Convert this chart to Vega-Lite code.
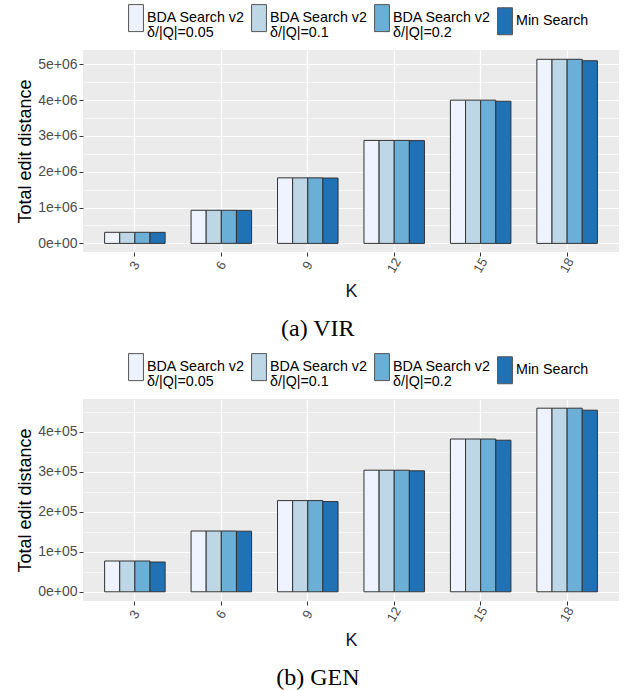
{
  "$schema": "https://vega.github.io/schema/vega-lite/v6.json",
  "padding": {"left": 16, "top": 4, "right": 5, "bottom": 3},
  "bounds": "flush",
  "spacing": 147,
  "config": {
    "view": {"fill": "#EBEBEB", "stroke": null},
    "font": "Liberation Sans",
    "style": {"guide-label": {"lineHeight": 14.5}}
  },
  "resolve": {"scale": {"y": "independent"}, "legend": {"color": "independent"}},
  "datasets": {
    "vir": [
      {"K": 3, "method": "BDA Search v2\nδ/|Q|=0.05", "value": 310000},
      {"K": 3, "method": "BDA Search v2\nδ/|Q|=0.1", "value": 310000},
      {"K": 3, "method": "BDA Search v2\nδ/|Q|=0.2", "value": 310000},
      {"K": 3, "method": "Min Search", "value": 308000},
      {"K": 6, "method": "BDA Search v2\nδ/|Q|=0.05", "value": 925000},
      {"K": 6, "method": "BDA Search v2\nδ/|Q|=0.1", "value": 925000},
      {"K": 6, "method": "BDA Search v2\nδ/|Q|=0.2", "value": 925000},
      {"K": 6, "method": "Min Search", "value": 923000},
      {"K": 9, "method": "BDA Search v2\nδ/|Q|=0.05", "value": 1830000},
      {"K": 9, "method": "BDA Search v2\nδ/|Q|=0.1", "value": 1830000},
      {"K": 9, "method": "BDA Search v2\nδ/|Q|=0.2", "value": 1830000},
      {"K": 9, "method": "Min Search", "value": 1825000},
      {"K": 12, "method": "BDA Search v2\nδ/|Q|=0.05", "value": 2875000},
      {"K": 12, "method": "BDA Search v2\nδ/|Q|=0.1", "value": 2875000},
      {"K": 12, "method": "BDA Search v2\nδ/|Q|=0.2", "value": 2875000},
      {"K": 12, "method": "Min Search", "value": 2870000},
      {"K": 15, "method": "BDA Search v2\nδ/|Q|=0.05", "value": 4000000},
      {"K": 15, "method": "BDA Search v2\nδ/|Q|=0.1", "value": 4000000},
      {"K": 15, "method": "BDA Search v2\nδ/|Q|=0.2", "value": 4000000},
      {"K": 15, "method": "Min Search", "value": 3970000},
      {"K": 18, "method": "BDA Search v2\nδ/|Q|=0.05", "value": 5140000},
      {"K": 18, "method": "BDA Search v2\nδ/|Q|=0.1", "value": 5140000},
      {"K": 18, "method": "BDA Search v2\nδ/|Q|=0.2", "value": 5140000},
      {"K": 18, "method": "Min Search", "value": 5100000}
    ],
    "gen": [
      {"K": 3, "method": "BDA Search v2\nδ/|Q|=0.05", "value": 77000},
      {"K": 3, "method": "BDA Search v2\nδ/|Q|=0.1", "value": 77000},
      {"K": 3, "method": "BDA Search v2\nδ/|Q|=0.2", "value": 77000},
      {"K": 3, "method": "Min Search", "value": 74500},
      {"K": 6, "method": "BDA Search v2\nδ/|Q|=0.05", "value": 152000},
      {"K": 6, "method": "BDA Search v2\nδ/|Q|=0.1", "value": 152000},
      {"K": 6, "method": "BDA Search v2\nδ/|Q|=0.2", "value": 152000},
      {"K": 6, "method": "Min Search", "value": 151500},
      {"K": 9, "method": "BDA Search v2\nδ/|Q|=0.05", "value": 228000},
      {"K": 9, "method": "BDA Search v2\nδ/|Q|=0.1", "value": 228000},
      {"K": 9, "method": "BDA Search v2\nδ/|Q|=0.2", "value": 228000},
      {"K": 9, "method": "Min Search", "value": 225500},
      {"K": 12, "method": "BDA Search v2\nδ/|Q|=0.05", "value": 304000},
      {"K": 12, "method": "BDA Search v2\nδ/|Q|=0.1", "value": 304000},
      {"K": 12, "method": "BDA Search v2\nδ/|Q|=0.2", "value": 304000},
      {"K": 12, "method": "Min Search", "value": 302500},
      {"K": 15, "method": "BDA Search v2\nδ/|Q|=0.05", "value": 382000},
      {"K": 15, "method": "BDA Search v2\nδ/|Q|=0.1", "value": 382000},
      {"K": 15, "method": "BDA Search v2\nδ/|Q|=0.2", "value": 382000},
      {"K": 15, "method": "Min Search", "value": 379000},
      {"K": 18, "method": "BDA Search v2\nδ/|Q|=0.05", "value": 459000},
      {"K": 18, "method": "BDA Search v2\nδ/|Q|=0.1", "value": 459000},
      {"K": 18, "method": "BDA Search v2\nδ/|Q|=0.2", "value": 459000},
      {"K": 18, "method": "Min Search", "value": 454000}
    ]
  },
  "vconcat": [
    {
      "width": 536,
      "height": 202,
      "data": {"name": "vir"},
      "title": {"text": "(a) VIR", "orient": "bottom", "anchor": "middle", "frame": "bounds", "font": "Liberation Serif", "fontSize": 24, "fontWeight": "normal", "color": "black", "offset": 16},
      "mark": {"type": "bar", "stroke": "#333333", "strokeWidth": 1},
      "encoding": {
        "x": {
          "field": "K", "type": "ordinal", "sort": [3, 6, 9, 12, 15, 18],
          "scale": {"paddingInner": 0.3, "paddingOuter": 0.25},
          "axis": {"title": "K", "titleFontSize": 18, "titleFontWeight": "normal", "titleColor": "#141433", "titlePadding": 8,
            "labelAngle": -60, "labelAlign": "center", "labelBaseline": "middle", "labelPadding": 9, "labelFontSize": 13, "labelColor": "#4D4D4D",
            "tickColor": "#333333", "tickSize": 4, "domain": false, "grid": true, "gridColor": "white", "gridWidth": 1.2, "bandPosition": 0.5}
        },
        "xOffset": {"field": "method", "type": "nominal", "sort": ["BDA Search v2\nδ/|Q|=0.05", "BDA Search v2\nδ/|Q|=0.1", "BDA Search v2\nδ/|Q|=0.2", "Min Search"]},
        "y": {
          "field": "value", "type": "quantitative", "stack": null,
          "scale": {"domain": [-240000, 5400000], "nice": false, "zero": false},
          "axis": {"title": "Total edit distance", "titleFontSize": 18, "titleFontWeight": "normal", "titleColor": "black", "titlePadding": 3,
            "values": [0, 500000, 1000000, 1500000, 2000000, 2500000, 3000000, 3500000, 4000000, 4500000, 5000000],
            "labelExpr": "datum.value == 0 ? '0e+00' : (datum.value % 1000000 == 0 ? (datum.value / 1000000) + 'e+06' : '')",
            "labelFontSize": 14, "labelColor": "#4D4D4D", "labelPadding": 2,
            "tickSize": 4, "tickColor": "#333333",
            "tickOpacity": {"condition": {"test": "datum.value % 1000000 != 0", "value": 0}, "value": 1},
            "domain": false, "grid": true, "gridColor": "white",
            "gridWidth": {"condition": {"test": "datum.value % 1000000 == 0", "value": 1.2}, "value": 0.6}}
        },
        "color": {
          "field": "method", "type": "nominal",
          "scale": {"domain": ["BDA Search v2\nδ/|Q|=0.05", "BDA Search v2\nδ/|Q|=0.1", "BDA Search v2\nδ/|Q|=0.2", "Min Search"], "range": ["#EFF3FF", "#BDD7E7", "#6BAED6", "#2171B5"]},
          "legend": {"orient": "none", "legendX": 39, "legendY": -46, "direction": "horizontal", "columns": 4, "title": null,
            "symbolType": "M-0.55,-1H0.55V1H-0.55Z", "symbolSize": 729, "symbolStrokeColor": "#555555", "symbolStrokeWidth": 1,
            "labelFontSize": 14.3, "labelColor": "black", "labelExpr": "split(datum.label, '\\n')", "labelOffset": -3, "columnPadding": -2, "labelLimit": 300}
        }
      }
    },
    {
      "width": 536,
      "height": 202,
      "data": {"name": "gen"},
      "title": {"text": "(b) GEN", "orient": "bottom", "anchor": "middle", "frame": "bounds", "font": "Liberation Serif", "fontSize": 24, "fontWeight": "normal", "color": "black", "offset": 16},
      "mark": {"type": "bar", "stroke": "#333333", "strokeWidth": 1},
      "encoding": {
        "x": {
          "field": "K", "type": "ordinal", "sort": [3, 6, 9, 12, 15, 18],
          "scale": {"paddingInner": 0.3, "paddingOuter": 0.25},
          "axis": {"title": "K", "titleFontSize": 18, "titleFontWeight": "normal", "titleColor": "#141433", "titlePadding": 8,
            "labelAngle": -60, "labelAlign": "center", "labelBaseline": "middle", "labelPadding": 9, "labelFontSize": 13, "labelColor": "#4D4D4D",
            "tickColor": "#333333", "tickSize": 4, "domain": false, "grid": true, "gridColor": "white", "gridWidth": 1.2, "bandPosition": 0.5}
        },
        "xOffset": {"field": "method", "type": "nominal", "sort": ["BDA Search v2\nδ/|Q|=0.05", "BDA Search v2\nδ/|Q|=0.1", "BDA Search v2\nδ/|Q|=0.2", "Min Search"]},
        "y": {
          "field": "value", "type": "quantitative", "stack": null,
          "scale": {"domain": [-23000, 482000], "nice": false, "zero": false},
          "axis": {"title": "Total edit distance", "titleFontSize": 18, "titleFontWeight": "normal", "titleColor": "black", "titlePadding": 3,
            "values": [0, 50000, 100000, 150000, 200000, 250000, 300000, 350000, 400000, 450000],
            "labelExpr": "datum.value == 0 ? '0e+00' : (datum.value % 100000 == 0 ? (datum.value / 100000) + 'e+05' : '')",
            "labelFontSize": 14, "labelColor": "#4D4D4D", "labelPadding": 2,
            "tickSize": 4, "tickColor": "#333333",
            "tickOpacity": {"condition": {"test": "datum.value % 100000 != 0", "value": 0}, "value": 1},
            "domain": false, "grid": true, "gridColor": "white",
            "gridWidth": {"condition": {"test": "datum.value % 100000 == 0", "value": 1.2}, "value": 0.6}}
        },
        "color": {
          "field": "method", "type": "nominal",
          "scale": {"domain": ["BDA Search v2\nδ/|Q|=0.05", "BDA Search v2\nδ/|Q|=0.1", "BDA Search v2\nδ/|Q|=0.2", "Min Search"], "range": ["#EFF3FF", "#BDD7E7", "#6BAED6", "#2171B5"]},
          "legend": {"orient": "none", "legendX": 39, "legendY": -46, "direction": "horizontal", "columns": 4, "title": null,
            "symbolType": "M-0.55,-1H0.55V1H-0.55Z", "symbolSize": 729, "symbolStrokeColor": "#555555", "symbolStrokeWidth": 1,
            "labelFontSize": 14.3, "labelColor": "black", "labelExpr": "split(datum.label, '\\n')", "labelOffset": -3, "columnPadding": -2, "labelLimit": 300}
        }
      }
    }
  ]
}
